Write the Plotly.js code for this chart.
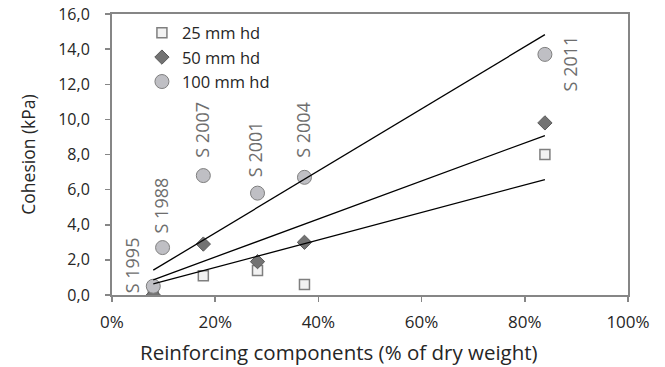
<!DOCTYPE html>
<html><head><meta charset="utf-8">
<script src="https://cdn.plot.ly/plotly-3.0.1.min.js"></script>
<style>html,body{margin:0;padding:0;background:#fff}#chart{width:665px;height:367px}</style>
</head><body><div id="chart"></div>
<script>
// Data (x in % of dry weight, y cohesion in kPa)
const seriesNames = ['25 mm hd', '50 mm hd', '100 mm hd'];
const x25 = [8.0, 17.7, 28.2, 37.3, 83.9];
const y25 = [0.0, 1.1, 1.4, 0.6, 8.0];
const x50 = [8.0, 17.7, 28.2, 37.3, 83.9];
const y50 = [0.0, 2.9, 1.9, 3.0, 9.8];
const x100 = [8.0, 9.8, 17.7, 28.2, 37.3, 83.9];
const y100 = [0.5, 2.7, 6.8, 5.8, 6.7, 13.7];
const siteLabels = ['S 1995', 'S 1988', 'S 2007', 'S 2001', 'S 2004', 'S 2011'];
const siteLabelX = [3.9, 9.5, 17.4, 27.7, 37.0, 88.8];
const siteLabelY = [1.7, 5.1, 9.4, 8.3, 9.4, 13.2];
const xTickVals = [0, 20, 40, 60, 80, 100];
const xTickText = ['0%', '20%', '40%', '60%', '80%', '100%'];
const yTickVals = [0, 2, 4, 6, 8, 10, 12, 14, 16];
const xTitle = 'Reinforcing components (% of dry weight)';
const yTitle = 'Cohesion (kPa)';

// Linear trend through origin (intercept fixed at 0)
function trend(xs, ys) {
  let sxy = 0, sxx = 0;
  for (let i = 0; i < xs.length; i++) { sxy += xs[i] * ys[i]; sxx += xs[i] * xs[i]; }
  const k = sxy / sxx;
  const lo = Math.min(...xs), hi = Math.max(...xs);
  return {x: [lo, hi], y: [k * lo, k * hi]};
}

const font = 'Open Sans, Liberation Sans, sans-serif';
const txt = '#262626';
const traces = [
  {x: x25, y: y25, name: seriesNames[0], mode: 'markers', type: 'scatter',
   marker: {symbol: 'square', size: 10, color: '#f2f2f2', line: {color: '#7f7f7f', width: 1.5}}},
  {x: x50, y: y50, name: seriesNames[1], mode: 'markers', type: 'scatter',
   marker: {symbol: 'diamond', size: 11, color: '#737373', line: {color: '#595959', width: 1}}},
  {x: x100, y: y100, name: seriesNames[2], mode: 'markers', type: 'scatter',
   marker: {symbol: 'circle', size: 14, color: '#bfbfc4', line: {color: '#7f7f7f', width: 1}}}
];
[[x25, y25], [x50, y50], [x100, y100]].forEach(function (s) {
  const t = trend(s[0], s[1]);
  traces.push({x: t.x, y: t.y, mode: 'lines', type: 'scatter', showlegend: false, hoverinfo: 'skip',
    line: {color: '#000000', width: 1.3}});
});

const annotations = siteLabels.map(function (t, i) {
  return {x: siteLabelX[i], y: siteLabelY[i], xref: 'x', yref: 'y', text: t, showarrow: false,
    textangle: -90, font: {family: font, size: 18, color: '#6e6e6e'}};
});
annotations.push({x: 0.44, y: -0.203, xref: 'paper', yref: 'paper', text: xTitle, showarrow: false,
  xanchor: 'center', yanchor: 'middle', font: {family: font, size: 20.5, color: txt}});

const layout = {
  width: 665, height: 367,
  margin: {l: 112, r: 37, t: 14, b: 72},
  paper_bgcolor: '#ffffff', plot_bgcolor: '#ffffff',
  separators: ', ',
  font: {family: font, size: 16, color: txt},
  showlegend: true,
  legend: {x: 0.058, y: 0.995, xanchor: 'left', yanchor: 'top', bgcolor: 'rgba(0,0,0,0)',
    font: {family: font, size: 16.5, color: txt}, tracegroupgap: 0},
  xaxis: {range: [0, 100], tickmode: 'array', tickvals: xTickVals, ticktext: xTickText,
    showgrid: false, zeroline: false,
    showline: true, linecolor: '#868686', linewidth: 2, mirror: true, ticks: 'outside', ticklen: 5,
    tickcolor: '#868686', tickwidth: 1.5, ticklabelstandoff: 6,
    tickfont: {family: font, size: 17, color: txt}},
  yaxis: {range: [0, 16], tickvals: yTickVals, tickformat: '.1f', showgrid: false, zeroline: false,
    showline: true, linecolor: '#868686', linewidth: 2, mirror: true, ticks: 'outside', ticklen: 5,
    tickcolor: '#868686', tickwidth: 1.5, ticklabelstandoff: 12,
    tickfont: {family: font, size: 16, color: txt},
    title: {text: yTitle, font: {family: font, size: 17.5, color: txt}, standoff: 18}},
  annotations: annotations
};
Plotly.newPlot('chart', traces, layout, {displayModeBar: false, staticPlot: true});
</script></body></html>
